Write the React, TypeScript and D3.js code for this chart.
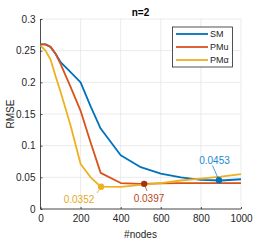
import React, { useEffect, useRef } from 'react';
import * as d3 from 'd3';

// sampled node counts and RMSE per method
const nodesX = [0, 25, 50, 75, 100, 150, 200, 250, 300, 400, 500, 600, 700, 800, 900, 1000];
const smVals = [0.26, 0.26, 0.256, 0.245, 0.232, 0.216, 0.2, 0.162, 0.127, 0.085, 0.066, 0.056, 0.05, 0.046, 0.045, 0.047];
const pmuVals = [0.26, 0.26, 0.256, 0.245, 0.229, 0.193, 0.155, 0.105, 0.057, 0.041, 0.0397, 0.0405, 0.041, 0.041, 0.041, 0.041];
const pmaVals = [0.258, 0.25, 0.236, 0.21, 0.185, 0.132, 0.071, 0.05, 0.0352, 0.035, 0.038, 0.041, 0.045, 0.048, 0.051, 0.055];

const seriesNames = ['SM', 'PMu', 'PM\u03b1'];
const seriesColors = ['#0072BD', '#D95319', '#EDB120'];

// data tips
const tipX = [890, 517, 302];
const tipY = [0.0453, 0.0397, 0.0352];
const tipLabels = ['0.0453', '0.0397', '0.0352'];
const tipMarker = ['#0072BD', '#A2330E', '#EDB120'];
const tipText = ['#1A87D6', '#B8461A', '#E5A81E'];

const xTicks = [0, 200, 400, 600, 800, 1000];
const yTicks = [0, 0.05, 0.1, 0.15, 0.2, 0.25, 0.3];

const App: React.FC = () => {
  const svgRef = useRef<SVGSVGElement>(null);

  useEffect(() => {
    if (!svgRef.current) return;
    const svg = d3.select(svgRef.current);
    svg.selectAll('*').remove();

    const x = d3.scaleLinear().domain([0, 1000]).range([40.5, 241]);
    const y = d3.scaleLinear().domain([0, 0.3]).range([209, 19]);
    const font = 'Liberation Sans, Arial, sans-serif';

    // grid
    const grid = svg.append('g');
    xTicks.forEach(t => {
      grid.append('line').attr('x1', x(t)).attr('x2', x(t)).attr('y1', y(0)).attr('y2', y(0.3))
        .attr('stroke', '#e6e6e6').attr('stroke-width', 0.8);
    });
    yTicks.forEach(t => {
      grid.append('line').attr('x1', x(0)).attr('x2', x(1000)).attr('y1', y(t)).attr('y2', y(t))
        .attr('stroke', '#e6e6e6').attr('stroke-width', 0.8);
    });

    // axes
    const xAxis = svg.append('g').attr('transform', `translate(0,${y(0)})`)
      .call(d3.axisBottom(x).tickValues(xTicks).tickSize(-2).tickPadding(6).tickFormat(d => `${d}`));
    const yAxis = svg.append('g').attr('transform', `translate(${x(0)},0)`)
      .call(d3.axisLeft(y).tickValues(yTicks).tickSize(-2).tickPadding(5).tickFormat(d => `${+d}`));
    [xAxis, yAxis].forEach(a => {
      a.selectAll('path').attr('stroke', '#262626').attr('stroke-width', 0.8);
      a.selectAll('line').attr('stroke', '#262626').attr('stroke-width', 0.8);
      a.selectAll('text').attr('fill', '#262626').style('font-family', font).style('font-size', '10px');
    });
    xAxis.select('.domain').attr('d', `M${x(0)},0H${x(1000)}`);
    yAxis.select('.domain').attr('d', `M0,${y(0)}V${y(0.3)}`);

    // lines
    const line = d3.line<number>().x((_, i) => x(nodesX[i])).y(d => y(d));
    [smVals, pmuVals, pmaVals].forEach((vals, i) => {
      svg.append('path').datum(vals).attr('d', line).attr('fill', 'none')
        .attr('stroke', seriesColors[i]).attr('stroke-width', 1.8).attr('stroke-linejoin', 'round');
    });

    // data tips: label centre and leader start
    const labelPos = [[214.5, 160], [149, 198], [79, 199]];
    const leaderStart = [[212.5, 165.5], [147, 191], [97, 193]];
    tipX.forEach((tx, i) => {
      const [lx, ly] = labelPos[i];
      const [sx, sy] = leaderStart[i];
      svg.append('line').attr('x1', sx).attr('y1', sy)
        .attr('x2', x(tx)).attr('y2', y(tipY[i]))
        .attr('stroke', tipText[i]).attr('stroke-width', 0.8);
      svg.append('circle').attr('cx', x(tx)).attr('cy', y(tipY[i])).attr('r', 3.2).attr('fill', tipMarker[i]);
      svg.append('text').attr('x', lx).attr('y', ly).attr('dy', '0.35em').attr('text-anchor', 'middle')
        .style('font-family', font).style('font-size', '10px').attr('fill', tipText[i]).text(tipLabels[i]);
    });

    // legend
    const lg = svg.append('g');
    lg.append('rect').attr('x', 172.5).attr('y', 27).attr('width', 60).attr('height', 40)
      .attr('fill', 'white').attr('stroke', '#262626').attr('stroke-width', 0.8);
    seriesNames.forEach((n, i) => {
      const ly = 34 + i * 13;
      lg.append('line').attr('x1', 176).attr('x2', 208).attr('y1', ly).attr('y2', ly)
        .attr('stroke', seriesColors[i]).attr('stroke-width', 1.8);
      lg.append('text').attr('x', 210).attr('y', ly).attr('dy', '0.35em')
        .style('font-family', font).style('font-size', '9px').attr('fill', '#262626').text(n);
    });

    // title & labels
    svg.append('text').attr('x', 140.5).attr('y', 12).attr('dy', '0.35em').attr('text-anchor', 'middle')
      .style('font-family', font).style('font-size', '10px').style('font-weight', 'bold').attr('fill', '#000').text('n=2');
    svg.append('text').attr('x', 140.5).attr('y', 234).attr('dy', '0.35em').attr('text-anchor', 'middle')
      .style('font-family', font).style('font-size', '10px').attr('fill', '#262626').text('#nodes');
    svg.append('text').attr('transform', `translate(10,${y(0.15)}) rotate(-90)`).attr('dy', '0.35em')
      .attr('text-anchor', 'middle').style('font-family', font).style('font-size', '10px')
      .attr('fill', '#262626').text('RMSE');
  }, []);

  return (
    <svg ref={svgRef} width={266} height={240}
      style={{ position: 'absolute', left: 0, top: 0, background: 'white' }} />
  );
};

export default App;
